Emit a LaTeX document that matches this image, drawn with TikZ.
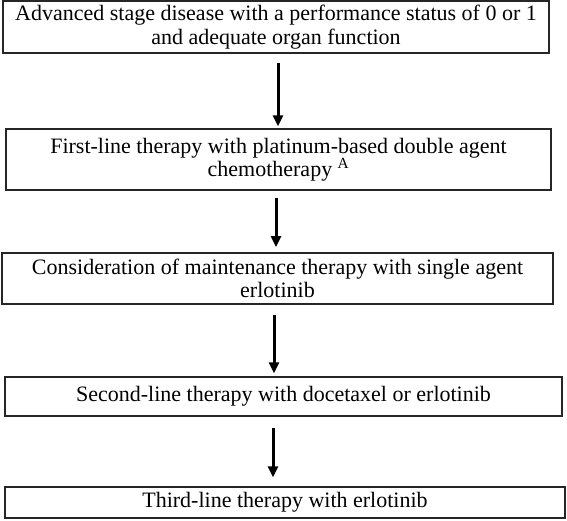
\documentclass[tikz,border=0pt]{standalone}
\usepackage{fontspec}
\setmainfont{Liberation Serif}
\usetikzlibrary{arrows.meta}

\begin{document}
\begin{tikzpicture}[x=1pt, y=-1pt,
every node/.style={align=center, font=\fontsize{22}{23.5}\selectfont},
stage/.style={draw=black!85, line width=1.4pt, inner sep=0pt},
arr/.style={line width=3pt, -{Triangle[width=10pt,length=11pt]}}]
%================================================================
%	Frame
\useasboundingbox (0,0) rectangle (567,520);

%================================================================
%	Boxes
\node[stage, line width=1.8pt, minimum width=546, minimum height=52] (b1) at (276,27)
 {Advanced stage disease with a performance status of 0 or 1\\and adequate organ function};
\node[stage, minimum width=545, minimum height=61] (b2) at (278.5,159.5)
 {First-line therapy with platinum-based double agent\\chemotherapy \textsuperscript{A}};
\node[stage, line width=1.8pt, minimum width=551, minimum height=51] (b3) at (277.5,278.5)
 {Consideration of maintenance therapy with single agent\\erlotinib};
\node[stage, minimum width=557, minimum height=39] (b4) at (283.5,396.5)
 {Second-line therapy with docetaxel or erlotinib};
\node[stage, minimum width=560, minimum height=31] (b5) at (285,502.5)
 {Third-line therapy with erlotinib};

%================================================================
%	Arrows
\coordinate (a1) at (278,0);
\coordinate (a2) at (276,0);
\coordinate (a3) at (274,0);
\coordinate (a4) at (273,0);
%----------------------------------------------------------------
\draw[arr, shorten <=9pt, shorten >=2pt] (b1.south -| a1) -- (b2.north -| a1);
\draw[arr, shorten <=7pt, shorten >=5pt] (b2.south -| a2) -- (b3.north -| a2);
\draw[arr, shorten <=10pt, shorten >=3pt] (b3.south -| a3) -- (b4.north -| a3);
\draw[arr, shorten <=11pt, shorten >=9pt] (b4.south -| a4) -- (b5.north -| a4);
%================================================================
\end{tikzpicture}
\end{document}
